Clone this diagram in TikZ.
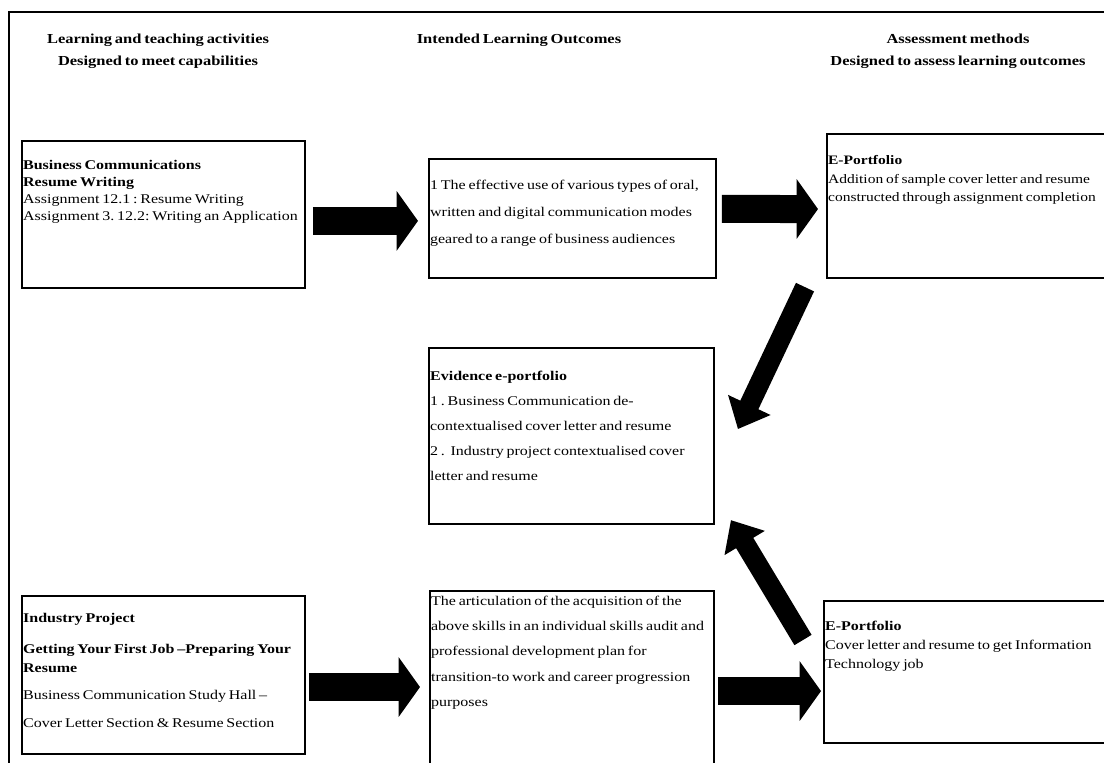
\documentclass[tikz,border=0pt]{standalone}
\usepackage{fontspec}
\setmainfont{Liberation Serif}[FakeStretch=1.2, WordSpace=0.7]
\usepackage{tikz}
\usetikzlibrary{calc, arrows.meta}
\frenchspacing

\newcommand{\cellbox}[4]{\parbox[t][#2][t]{#1}{\raggedright\hyphenpenalty=10000\rule{0pt}{#3}#4}}

\tikzset{
    cell/.style={draw, line width=1.6pt, anchor=north west, inner xsep=0.8pt, inner ysep=0pt},
    colhead/.style={align=center, font={\bfseries\fontsize{10.3}{16.5}\selectfont}},
    blockarrow/.style={line width=21pt, -{Triangle[length=16pt, width=44pt]}},
    slantarrow/.style={line width=15pt, -{Triangle[length=20pt, width=34pt]}}
}

\begin{document}
\begin{tikzpicture}[x=0.75pt, y=-0.75pt]
    \path[use as bounding box, clip] (0,0) rectangle (1104,763);
    % 1. Frame and column heads
    \draw[line width=2.2pt] (9,780) -- (9,12) -- (1120,12);
    \node[colhead] (hleft) at (158,51) {Learning and teaching activities\\Designed to meet capabilities};
    \node[colhead] (hmid) at (519,40) {Intended Learning Outcomes};
    \node[colhead] (hright) at (958,51) {Assessment methods\\Designed to assess learning outcomes};

    % 2. Boxes
    \node[cell, font={\fontsize{10}{12.75}\selectfont}] (bizcomm) at (21,140)
        {\cellbox{210.5pt}{110pt}{21.5pt}{\textbf{Business Communications}\\\textbf{Resume Writing}\\Assignment 12.1 : Resume Writing\\Assignment 3. 12.2: Writing an Application}};
    \node[cell, font={\fontsize{10}{20}\selectfont}] (ilo) at (428,158)
        {\cellbox{213.5pt}{89pt}{23pt}{1 The effective use of various types of oral,\\written and digital communication modes\\geared to a range of business audiences}};
    \node[cell, font={\fontsize{9.7}{13.9}\selectfont}] (eportone) at (826,133)
        {\cellbox{213pt}{108pt}{23pt}{\textbf{E-Portfolio}\\Addition of sample cover letter and resume\\constructed through assignment completion}};
    \node[cell, font={\fontsize{10}{18.75}\selectfont}] (evidence) at (428,347)
        {\cellbox{212pt}{132pt}{24pt}{\textbf{Evidence e-portfolio}\\1 . Business Communication de-\\contextualised cover letter and resume\\2 .\ \ Industry project contextualised cover\\letter and resume}};
    \node[cell, font={\fontsize{10}{14.25}\selectfont}] (industry) at (21,595)
        {\cellbox{210.5pt}{118.5pt}{20pt}{\textbf{Industry Project}\\[9pt]\textbf{Getting Your First Job --Preparing Your}\\\textbf{Resume}\\[6pt]Business Communication Study Hall --\\[6.75pt]Cover Letter Section \& Resume Section}};
    \node[cell, font={\fontsize{10}{19}\selectfont}] (articul) at (429,590)
        {\cellbox{211.5pt}{138.75pt}{10.5pt}{The articulation of the acquisition of the\\above skills in an individual skills audit and\\professional development plan for\\transition-to work and career progression\\purposes}};
    \node[cell, font={\fontsize{10}{14.25}\selectfont}] (eporttwo) at (823,600)
        {\cellbox{215pt}{106.5pt}{22pt}{\textbf{E-Portfolio}\\Cover letter and resume to get Information\\Technology job}};

    % 3. Arrows
    \draw[blockarrow] ($(bizcomm.east)+(7,6.5)$) -- ($(ilo.west)+(-10,2.5)$);
    \draw[blockarrow] ($(ilo.east)+(5,-9.5)$) -- ($(eportone.west)+(-8,3)$);
    \draw[slantarrow] ($(eportone.south west)+(-21,8)$) -- ($(evidence.east)+(23,-7)$);
    \draw[slantarrow] ($(eporttwo.north west)+(-20,40)$) -- ($(evidence.south east)+(16,-5)$);
    \draw[blockarrow] ($(industry.east)+(3,12)$) -- ($(articul.west)+(-9,3.5)$);
    \draw[blockarrow] ($(articul.east)+(3,7.5)$) -- ($(eporttwo.west)+(-2,19)$);
\end{tikzpicture}
\end{document}
